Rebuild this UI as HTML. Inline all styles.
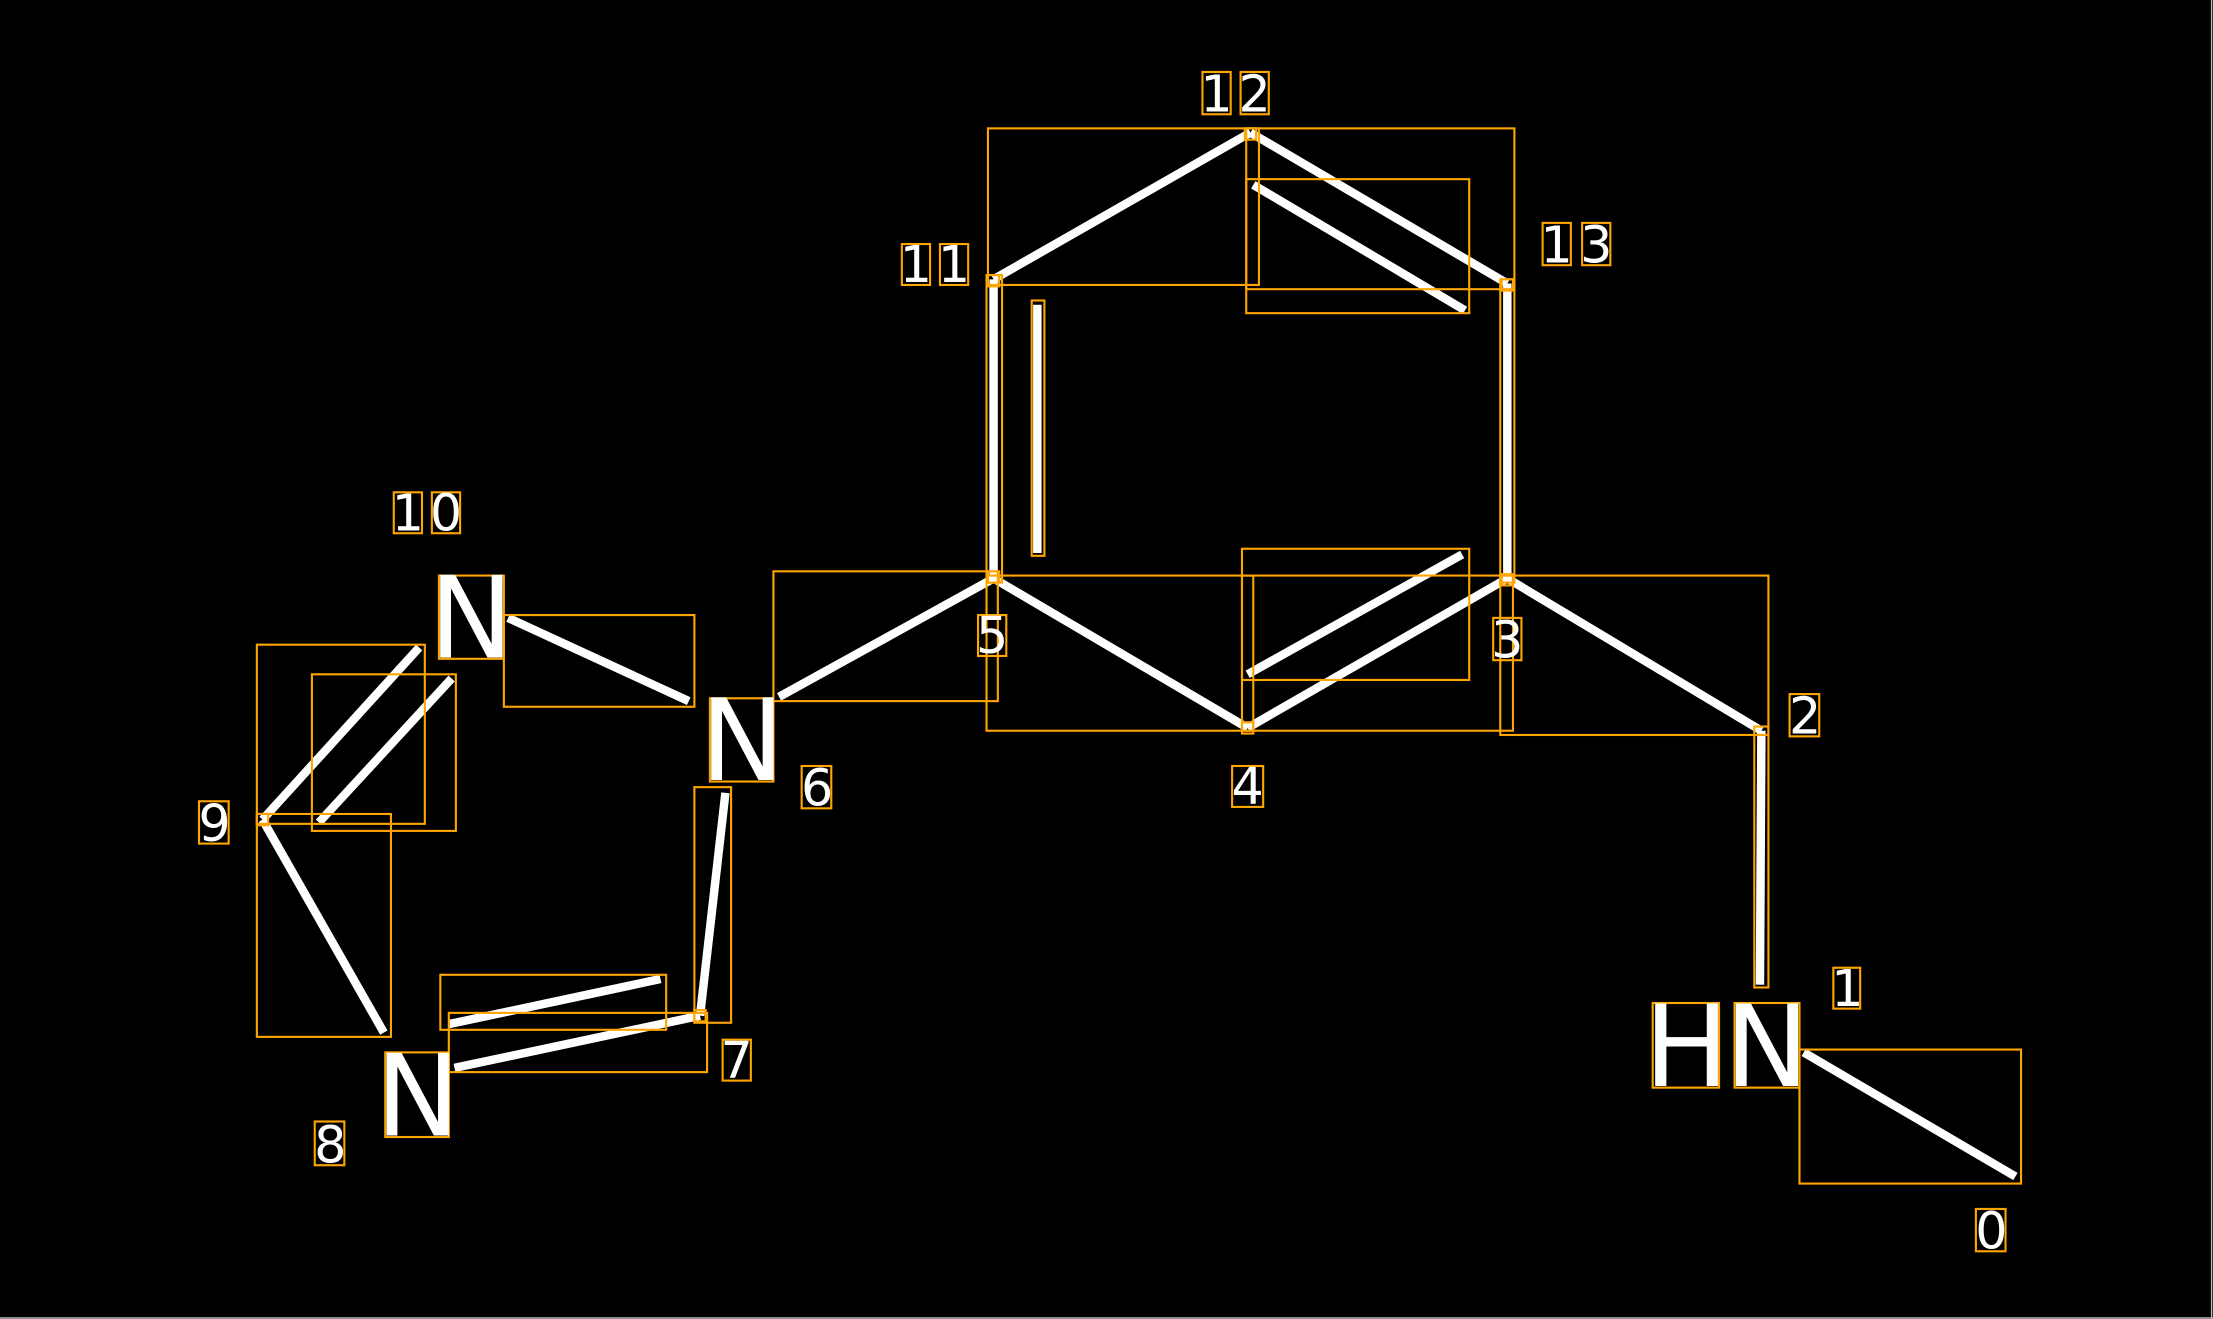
<!DOCTYPE html>
<html><head><style>html,body{margin:0;padding:0;background:#000;}svg{display:block}</style></head>
<body>
<svg width="2213" height="1319" viewBox="0 0 1568 935" preserveAspectRatio="none" xmlns="http://www.w3.org/2000/svg">
<rect width="1568" height="935" fill="#000"/>
<line x1="1567" y1="0" x2="1567" y2="935" stroke="#bbb" stroke-width="1"/>
<line x1="0" y1="934.3" x2="1568" y2="934.3" stroke="#bbb" stroke-width="1"/>
<g stroke="#fff" stroke-width="6" stroke-linecap="butt">
<line x1="704" y1="198" x2="886" y2="94"/>
<line x1="886" y1="94" x2="1068" y2="201"/>
<line x1="888" y1="131" x2="1038" y2="220"/>
<line x1="704" y1="198" x2="704" y2="410"/>
<line x1="735" y1="216" x2="735" y2="392"/>
<line x1="1068" y1="201" x2="1068" y2="410"/>
<line x1="704" y1="410" x2="884" y2="516"/>
<line x1="884" y1="516" x2="1068" y2="410"/>
<line x1="884" y1="478" x2="1036" y2="393"/>
<line x1="1068" y1="410" x2="1248" y2="518"/>
<line x1="1248" y1="518" x2="1247" y2="698"/>
<line x1="1278" y1="746" x2="1428" y2="834"/>
<line x1="704" y1="410" x2="552" y2="494"/>
<line x1="514" y1="562" x2="496" y2="720"/>
<line x1="496" y1="720" x2="322" y2="757"/>
<line x1="318" y1="726" x2="468" y2="694"/>
<line x1="272" y1="732" x2="186" y2="581"/>
<line x1="186" y1="581" x2="297" y2="459"/>
<line x1="226" y1="583" x2="320" y2="481"/>
<line x1="360" y1="438" x2="488" y2="497"/>
</g>
<g fill="none" stroke="#FFA500" stroke-width="1.5">
<rect x="700" y="91" width="192" height="111"/>
<rect x="883" y="91" width="190" height="114"/>
<rect x="883" y="127" width="158" height="95"/>
<rect x="699" y="195" width="11" height="218"/>
<rect x="731" y="213" width="9" height="181"/>
<rect x="1063" y="198" width="10" height="215"/>
<rect x="548" y="405" width="159" height="92"/>
<rect x="699" y="408" width="189" height="110"/>
<rect x="880" y="389" width="161" height="93"/>
<rect x="880" y="408" width="192" height="110"/>
<rect x="1063" y="408" width="190" height="113"/>
<rect x="1243" y="515" width="10" height="185"/>
<rect x="1275" y="744" width="157" height="95"/>
<rect x="357" y="436" width="135" height="65"/>
<rect x="492" y="558" width="26" height="167"/>
<rect x="318" y="718" width="183" height="42"/>
<rect x="312" y="691" width="160" height="39"/>
<rect x="182" y="577" width="95" height="158"/>
<rect x="182" y="457" width="119" height="127"/>
<rect x="221" y="478" width="102" height="111"/>
<rect x="882" y="91" width="8" height="8"/>
<rect x="700" y="195" width="8" height="8"/>
<rect x="1064" y="198" width="8" height="8"/>
<rect x="700" y="405" width="8" height="8"/>
<rect x="1064" y="407" width="8" height="8"/>
<rect x="880" y="512" width="8" height="8"/>
<rect x="492" y="716" width="8" height="8"/>
<rect x="182" y="577" width="8" height="8"/>
</g>
<g fill="none" stroke="#FFA500" stroke-width="1.5">
<rect x="852" y="51" width="20" height="30"/><rect x="879" y="51" width="20" height="30"/>
<rect x="639" y="173" width="20" height="29"/><rect x="666" y="173" width="20" height="29"/>
<rect x="1093" y="158" width="20" height="30"/><rect x="1121" y="158" width="20" height="30"/>
<rect x="279" y="349" width="20" height="29"/><rect x="306" y="349" width="20" height="29"/>
<rect x="141" y="568" width="21" height="30"/>
<rect x="223" y="795" width="21" height="31"/>
<rect x="512" y="737" width="20" height="29"/>
<rect x="568" y="543" width="21" height="30"/>
<rect x="693" y="436" width="20" height="29"/>
<rect x="873" y="543" width="22" height="29"/>
<rect x="1058" y="438" width="20" height="30"/>
<rect x="1268" y="492" width="21" height="30"/>
<rect x="1299" y="686" width="19" height="29"/>
<rect x="1400" y="857" width="21" height="30"/>
<rect x="311" y="408" width="46" height="59"/>
<rect x="503" y="495" width="45" height="59"/>
<rect x="273" y="746" width="45" height="60"/>
<rect x="1171" y="711" width="47" height="60"/>
<rect x="1229" y="711" width="46" height="60"/>
</g>
<g fill="#fff" font-family="DejaVu Sans, Liberation Sans, sans-serif" font-size="36" text-anchor="middle">
<text x="862" y="79">1</text><text x="889" y="79">2</text>
<text x="649" y="200">1</text><text x="676" y="200">1</text>
<text x="1103" y="186">1</text><text x="1131" y="186">3</text>
<text x="289" y="376">1</text><text x="316" y="376">0</text>
<text x="152" y="596">9</text>
<text x="234" y="824">8</text>
<text x="522" y="764">7</text>
<text x="579" y="571">6</text>
<text x="703" y="463">5</text>
<text x="884" y="570">4</text>
<text x="1068" y="466">3</text>
<text x="1279" y="520">2</text>
<text x="1309" y="713">1</text>
<text x="1411" y="885">0</text>
</g>
<g fill="#fff" font-family="DejaVu Sans, Liberation Sans, sans-serif" font-size="80" text-anchor="middle">
<text x="334" y="466">N</text>
<text x="526" y="553">N</text>
<text x="296" y="805">N</text>
<text x="1195" y="770">H</text>
<text x="1252" y="770">N</text>
</g>
</svg>
</body></html>
